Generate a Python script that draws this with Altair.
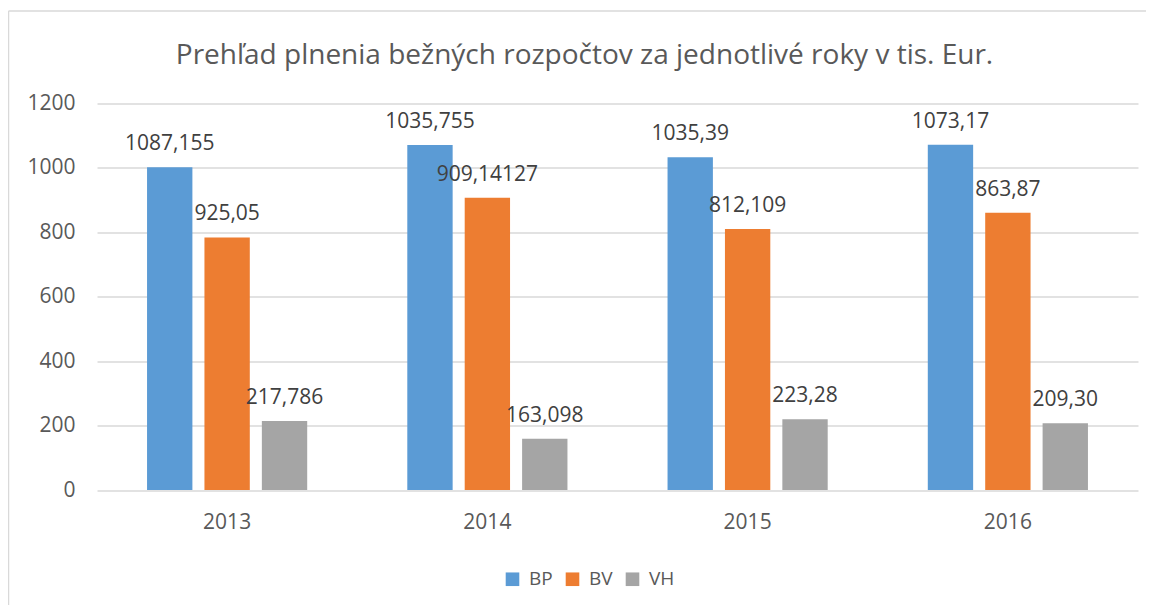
import altair as alt
import pandas as pd

years = ["2013", "2014", "2015", "2016"]
series = ["BP", "BV", "VH"]
bp = [1002, 1071, 1033, 1072]
bv = [784, 907, 810, 861]
vh = [214, 159, 220, 207]
labels_bp = ["1087,155", "1035,755", "1035,39", "1073,17"]
labels_bv = ["925,05", "909,14127", "812,109", "863,87"]
labels_vh = ["217,786", "163,098", "223,28", "209,30"]
colors = ["#5B9BD5", "#ED7D31", "#A5A5A5"]
title_text = "Prehľad plnenia bežných rozpočtov za jednotlivé roky v tis. Eur."

rows = []
for s, vals, labs in zip(series, [bp, bv, vh], [labels_bp, labels_bv, labels_vh]):
    for y, v, l in zip(years, vals, labs):
        rows.append({"rok": y, "rad": s, "hodnota": v, "popis": l})
df = pd.DataFrame(rows)

FONT = "Open Sans"
FS = 21

base = alt.Chart(df).encode(
    x=alt.X("rok:N", title=None, sort=years,
            scale=alt.Scale(paddingInner=0.3846, paddingOuter=0.1923),
            axis=alt.Axis(labelAngle=0, ticks=False, domain=False, labelPadding=21,
                          labelFontSize=FS, labelColor="#595959", labelFont=FONT)),
    xOffset=alt.XOffset("rad:N", sort=series,
                        scale=alt.Scale(paddingInner=0.21, paddingOuter=0)),
)

bars = base.mark_bar().encode(
    y=alt.Y("hodnota:Q", title=None,
            scale=alt.Scale(domain=[0, 1200]),
            axis=alt.Axis(values=[0, 200, 400, 600, 800, 1000, 1200], format="d",
                          ticks=False, domain=False,
                          gridColor="#D9D9D9", gridWidth=1.3, labelPadding=22,
                          labelFontSize=FS, labelColor="#595959", labelFont=FONT)),
    color=alt.Color("rad:N", sort=series, title=None,
                    scale=alt.Scale(domain=series, range=colors),
                    legend=alt.Legend(orient="none", direction="horizontal", columns=3,
                                      legendX=406, legendY=466, symbolType="square",
                                      symbolSize=185, symbolStrokeWidth=0, labelFontSize=19,
                                      labelColor="#595959", labelFont=FONT,
                                      columnPadding=10, labelOffset=7)),
)

texts = base.mark_text(baseline="alphabetic", dy=-17, fontSize=FS, color="#404040", font=FONT).encode(
    y="hodnota:Q",
    text="popis:N",
)

frame_df = pd.DataFrame({"a": [0]})
left_border = alt.Chart(frame_df).mark_rule(color="#D9D9D9", strokeWidth=1.5).encode(
    x=alt.value(-88.5), y=alt.value(-92.5), y2=alt.value(520)
)
top_border = alt.Chart(frame_df).mark_rule(color="#D9D9D9", strokeWidth=1.5).encode(
    x=alt.value(-88.5), x2=alt.value(1060), y=alt.value(-92.5)
)

chart = alt.layer(bars, texts, left_border, top_border).properties(
    width=1041,
    height=386.5,
    padding={"left": 89, "top": 95.5, "right": 8, "bottom": 115},
    autosize=alt.AutoSizeParams(type="none"),
    title=alt.TitleParams(title_text, fontSize=28, font=FONT, fontWeight="normal",
                          color="#595959", anchor="middle", dx=-33, offset=0,
                          baseline="alphabetic", dy=82),
).configure_view(stroke=None)

chart.save("out.html", embed_options={"renderer": "svg", "actions": False})
